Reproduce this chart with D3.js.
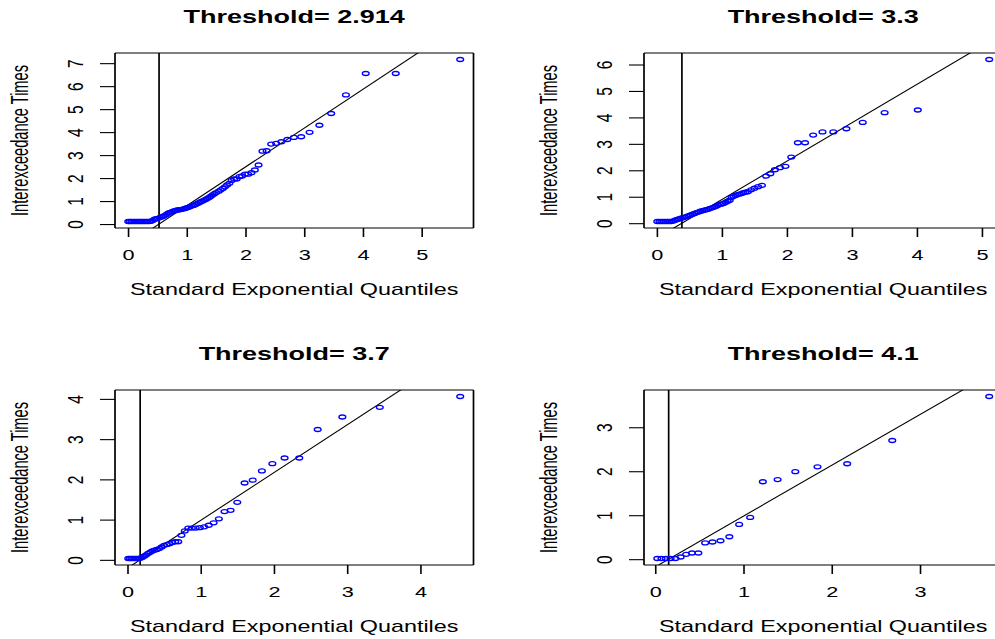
<!DOCTYPE html>
<html>
<head>
<meta charset="utf-8">
<script src="https://cdn.jsdelivr.net/npm/d3@7"></script>
<style>
body { margin: 0; background: #fff; overflow: hidden; }
text { font-family: "Liberation Sans", Arial, Helvetica, sans-serif; fill: #000; }
</style>
</head>
<body>
<svg id="chart" width="995" height="639"></svg>
<script>
// =======================
//  Data
// =======================

var titles = ["Threshold= 2.914", "Threshold= 3.3", "Threshold= 3.7", "Threshold= 4.1"];
var xLabel = "Standard Exponential Quantiles";
var yLabel = "Interexceedance Times";

// threshold 2.914
var xq1 = [0.004, 0.03, 0.06, 0.09, 0.12, 0.15, 0.18, 0.21, 0.24, 0.27, 0.30, 0.33, 0.36,
    0.39, 0.42, 0.45, 0.48, 0.51, 0.54, 0.57, 0.60, 0.63, 0.66, 0.69, 0.72, 0.75, 0.78, 0.81,
    0.84, 0.87, 0.90, 0.93, 0.96, 0.99, 1.02, 1.05, 1.08, 1.11, 1.14, 1.17, 1.20, 1.23, 1.26,
    1.29, 1.32, 1.35, 1.38, 1.41, 1.44, 1.47, 1.50,
    1.545, 1.578, 1.613, 1.649, 1.686, 1.724, 1.764, 1.806, 1.849, 1.895, 1.942, 1.992, 2.045,
    2.101, 2.159, 2.222, 2.289, 2.360, 2.437, 2.521, 2.611, 2.712, 2.823, 2.948, 3.091, 3.258,
    3.459, 3.710, 4.047, 4.558, 5.656];
var yt1 = [0.11, 0.11, 0.11, 0.11, 0.11, 0.11, 0.11, 0.11, 0.11, 0.11, 0.11, 0.11, 0.11,
    0.12, 0.15, 0.21, 0.23, 0.25, 0.28, 0.31, 0.34, 0.38, 0.43, 0.48, 0.51, 0.54, 0.57, 0.59,
    0.61, 0.62, 0.63, 0.65, 0.67, 0.70, 0.72, 0.75, 0.78, 0.81, 0.84, 0.88, 0.92, 0.96, 0.99,
    1.03, 1.07, 1.11, 1.16, 1.21, 1.27, 1.32, 1.37,
    1.43, 1.49, 1.55, 1.62, 1.70, 1.77, 1.90, 1.96, 1.96, 2.06, 2.09, 2.17, 2.17,
    2.23, 2.35, 2.57, 3.17, 3.19, 3.48, 3.51, 3.58, 3.68, 3.77, 3.80, 3.99, 4.30,
    4.81, 5.62, 6.55, 6.55, 7.16];

// threshold 3.3
var xq2 = [0.006, 0.04, 0.07, 0.10, 0.13, 0.16, 0.19, 0.22, 0.25, 0.28, 0.31, 0.34, 0.37,
    0.40, 0.43, 0.46, 0.49, 0.52, 0.55, 0.58, 0.61, 0.64, 0.67, 0.70, 0.73, 0.76, 0.79, 0.82,
    0.85, 0.88, 0.91, 0.94, 0.97, 1.00, 1.03, 1.06, 1.09, 1.12, 1.15, 1.18, 1.21, 1.24, 1.27,
    1.30, 1.33, 1.36,
    1.399, 1.449, 1.501, 1.557, 1.616, 1.678, 1.745, 1.816, 1.893, 1.977, 2.067, 2.168, 2.279,
    2.404, 2.547, 2.714, 2.915, 3.166, 3.503, 4.013, 5.112];
var yt2 = [0.063, 0.063, 0.063, 0.063, 0.063, 0.063, 0.063, 0.063, 0.08, 0.11, 0.14, 0.16, 0.19,
    0.21, 0.23, 0.26, 0.28, 0.31, 0.34, 0.37, 0.40, 0.42, 0.45, 0.47, 0.49, 0.51, 0.53, 0.56,
    0.58, 0.61, 0.64, 0.68, 0.71, 0.73, 0.75, 0.79, 0.83, 0.87, 0.98, 1.02, 1.05, 1.08, 1.10,
    1.12, 1.15, 1.17,
    1.19, 1.26, 1.32, 1.38, 1.43, 1.78, 1.87, 2.02, 2.10, 2.15, 2.50, 3.04, 3.04,
    3.33, 3.45, 3.45, 3.57, 3.81, 4.18, 4.28, 6.19];

// threshold 3.7
var xq3 = [0.0107, 0.0324, 0.0547, 0.0774, 0.1006, 0.1245, 0.1489, 0.1739, 0.1995, 0.2258,
    0.2529, 0.2806, 0.3092, 0.3386, 0.3689, 0.4002, 0.4324, 0.4658, 0.5002, 0.5360, 0.5730,
    0.6115, 0.6515, 0.6931, 0.7367, 0.7821, 0.8297, 0.8797, 0.9323, 0.9879, 1.0468, 1.1093,
    1.1760, 1.2475, 1.3245, 1.4079, 1.4990, 1.5991, 1.7103, 1.8353, 1.9782, 2.1450, 2.3457,
    2.5970, 2.9339, 3.4447, 4.5433];
var yt3 = [0.033, 0.033, 0.033, 0.033, 0.033, 0.033, 0.035, 0.04, 0.06, 0.09,
    0.12, 0.16, 0.19, 0.22, 0.24, 0.26, 0.28, 0.32, 0.36, 0.38, 0.40,
    0.43, 0.45, 0.45, 0.61, 0.72, 0.79, 0.79, 0.79, 0.80, 0.82, 0.86,
    0.92, 1.02, 1.20, 1.23, 1.43, 1.91, 1.98, 2.21, 2.39, 2.53, 2.53,
    3.24, 3.55, 3.79, 4.06];

// threshold 4.1
var xq4 = [0.023, 0.0706, 0.1206, 0.1733, 0.2288, 0.2877, 0.3503, 0.4169, 0.4884, 0.5653,
    0.6487, 0.7397, 0.8397, 0.9510, 1.0761, 1.2192, 1.3863, 1.5870, 1.8383, 2.1748, 2.6856, 3.7842];
var yt4 = [0.015, 0.015, 0.015, 0.015, 0.015, 0.05, 0.11, 0.14, 0.14, 0.37,
    0.39, 0.42, 0.51, 0.79, 0.95, 1.76, 1.81, 1.99, 2.10, 2.17, 2.70, 3.70];

// fitted line: y = slope * (x - cut), vertical line at x = cut
var cuts = [0.528, 0.385, 0.173, 0.152];
var slopes = [1.689, 1.452, 1.187, 1.155];

var xTicks = [[0, 1, 2, 3, 4, 5], [0, 1, 2, 3, 4, 5], [0, 1, 2, 3, 4], [0, 1, 2, 3]];
var yTicks = [[0, 1, 2, 3, 4, 5, 6, 7], [0, 1, 2, 3, 4, 5, 6], [0, 1, 2, 3, 4], [0, 1, 2, 3]];

var panels = [
    {x: xq1, y: yt1}, {x: xq2, y: yt2}, {x: xq3, y: yt3}, {x: xq4, y: yt4}
];

// =======================
//  Layout
// =======================

var svg = d3.select("#chart");
var W = 358.5, H = 175;
var boxes = [[115, 53], [644, 53], [115, 390], [644, 390]];
var SX_TITLE = 1.5, SX_LAB = 1.46, SX_YLAB = 1.6, SX_TICK = 1.4;

// R-style axis range: data extent padded by 4%
function rDomain(v) {
    var e = d3.extent(v), pad = (e[1] - e[0]) * 0.04;
    return [e[0] - pad, e[1] + pad];
}

panels.forEach(function(p, i) {
    var bx = boxes[i][0], by = boxes[i][1];
    var g = svg.append("g").attr("transform", "translate(" + bx + "," + by + ")");

    var x = d3.scaleLinear().domain(rDomain(p.x)).range([0, W]);
    var y = d3.scaleLinear().domain(rDomain(p.y)).range([H, 0]);

    g.append("clipPath").attr("id", "clip" + i)
        .append("rect").attr("width", W).attr("height", H);

    // box
    g.append("line").attr("x1", 0).attr("x2", W).attr("y1", 0).attr("y2", 0)
        .attr("stroke", "#000").attr("stroke-width", 1.1);
    g.append("line").attr("x1", 0).attr("x2", W).attr("y1", H).attr("y2", H)
        .attr("stroke", "#000").attr("stroke-width", 1.1);
    g.append("line").attr("x1", 0).attr("x2", 0).attr("y1", 0).attr("y2", H)
        .attr("stroke", "#000").attr("stroke-width", 1.7);
    g.append("line").attr("x1", W).attr("x2", W).attr("y1", 0).attr("y2", H)
        .attr("stroke", "#000").attr("stroke-width", 1.7);

    // x axis
    var xa = g.append("g").attr("transform", "translate(0," + H + ")")
        .call(d3.axisBottom(x).tickValues(xTicks[i]).tickSize(9).tickSizeOuter(0).tickFormat(d3.format("d")));
    xa.select(".domain").remove();
    xa.selectAll("line").attr("stroke", "#000").attr("stroke-width", 1.6);
    xa.selectAll("text")
        .attr("y", null).attr("dy", null)
        .attr("transform", "translate(0,32) scale(" + SX_TICK + ",1)")
        .style("font-size", "15.5px")
        .attr("text-anchor", "middle");

    // y axis
    var ya = g.append("g")
        .call(d3.axisLeft(y).tickValues(yTicks[i]).tickSize(15).tickSizeOuter(0).tickFormat(d3.format("d")));
    ya.select(".domain").remove();
    ya.selectAll("line").attr("stroke", "#000").attr("stroke-width", 1.1);
    ya.selectAll("text")
        .attr("x", null).attr("dy", null)
        .attr("transform", "translate(-32,0) scale(" + SX_TICK + ",1) rotate(-90)")
        .style("font-size", "15.5px")
        .attr("text-anchor", "middle");
    g.selectAll(".tick text").attr("font-family", null).attr("font-size", null);

    // threshold line and fitted line
    var plot = g.append("g").attr("clip-path", "url(#clip" + i + ")");
    plot.append("line")
        .attr("x1", x(cuts[i])).attr("x2", x(cuts[i]))
        .attr("y1", 0).attr("y2", H)
        .attr("stroke", "#000").attr("stroke-width", 1.7);
    var xd = x.domain();
    plot.append("line")
        .attr("x1", x(xd[0])).attr("y1", y(slopes[i] * (xd[0] - cuts[i])))
        .attr("x2", x(xd[1])).attr("y2", y(slopes[i] * (xd[1] - cuts[i])))
        .attr("stroke", "#000").attr("stroke-width", 1.1);

    // points
    g.append("g").selectAll("ellipse")
        .data(p.x.map(function(d, k) { return [d, p.y[k]]; }))
        .join("ellipse")
        .attr("cx", d => x(d[0]))
        .attr("cy", d => y(d[1]))
        .attr("rx", 3.4)
        .attr("ry", 2.0)
        .attr("fill", "none")
        .attr("stroke", "#0000ff")
        .attr("stroke-width", 1.35);

    // titles and labels
    g.append("text")
        .attr("transform", "translate(" + (W / 2) + "," + -29.7 + ") scale(" + SX_TITLE + ",1)")
        .attr("text-anchor", "middle")
        .style("font-size", "18px").style("font-weight", "bold")
        .text(titles[i]);
    g.append("text")
        .attr("transform", "translate(" + (W / 2) + "," + (H + 67) + ") scale(" + SX_LAB + ",1)")
        .attr("text-anchor", "middle")
        .style("font-size", "16px")
        .text(xLabel);
    g.append("text")
        .attr("transform", "translate(-87," + (H / 2) + ") scale(" + SX_YLAB + ",1) rotate(-90)")
        .attr("text-anchor", "middle")
        .style("font-size", "14.6px")
        .text(yLabel);
});
</script>
</body>
</html>
